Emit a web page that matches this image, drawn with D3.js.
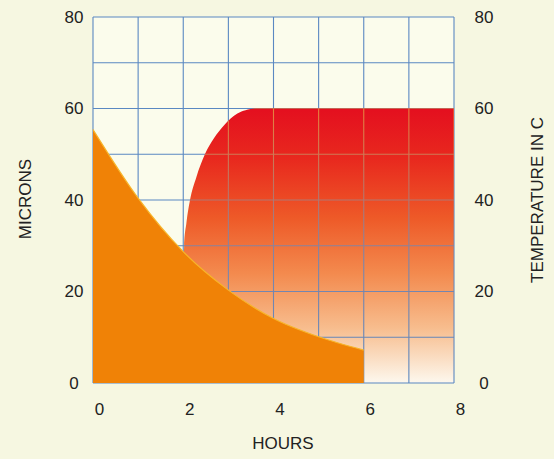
<!DOCTYPE html>
<html>
<head>
<meta charset="utf-8">
<script src="https://cdn.jsdelivr.net/npm/d3@7"></script>
<style>
  html, body { margin: 0; padding: 0; background: #f6f7e1; }
  svg { display: block; }
  text { font-family: "Liberation Sans", Arial, Helvetica, sans-serif; fill: #222; }
</style>
</head>
<body>
<script>
// ---- data ----
const hourTicks = [0, 2, 4, 6, 8];
const valueTicks = [0, 20, 40, 60, 80];
const micronHours = [0, 1, 2, 3, 4, 5, 6];
const micronValues = [55.4, 40.4, 28.7, 20.3, 14.1, 10.1, 7.2];
const tempHours = [2.0, 2.02, 2.07, 2.15, 2.29, 2.48, 2.68, 2.89, 3.05, 3.2, 3.38, 3.6, 8];
const tempValues = [20, 30, 35, 40, 45, 50, 53.5, 56.2, 57.8, 58.9, 59.6, 60, 60];
const xLabel = "HOURS";
const yLeftLabel = "MICRONS";
const yRightLabel = "TEMPERATURE IN C";

const W = 554, H = 459;
const svg = d3.select("body").append("svg").attr("width", W).attr("height", H);

const x = d3.scaleLinear().domain([0, 8]).range([93, 454]);
const y = d3.scaleLinear().domain([0, 80]).range([383, 17]);

const defs = svg.append("defs");
const tempGrad = defs.append("linearGradient").attr("id", "tempGrad")
  .attr("gradientUnits", "userSpaceOnUse")
  .attr("x1", 0).attr("x2", 0).attr("y1", y(60)).attr("y2", y(0));
[[0, "#e40f1f"], [0.18, "#e8281e"], [0.4, "#ee5a28"], [0.6, "#f38a4e"], [0.8, "#f7bd8e"], [1, "#fdf8ee"]]
  .forEach(([o, c]) => tempGrad.append("stop").attr("offset", o).attr("stop-color", c));

const gridGrad = defs.append("linearGradient").attr("id", "gridGrad")
  .attr("gradientUnits", "userSpaceOnUse")
  .attr("x1", 0).attr("x2", 0).attr("y1", y(60)).attr("y2", y(0));
[[0, "#e8803c"], [0.3, "#b97468"], [0.55, "#7d86aa"], [1, "#5886c0"]]
  .forEach(([o, c]) => gridGrad.append("stop").attr("offset", o).attr("stop-color", c));

// plot interior
svg.append("rect").attr("x", x(0)).attr("y", y(80))
  .attr("width", x(8) - x(0)).attr("height", y(0) - y(80)).attr("fill", "#fbfcec");

// grid
function drawGrid(g, stroke) {
  g.selectAll("line.v").data(d3.range(0, 9)).join("line").attr("class", "v")
    .attr("x1", d => x(d)).attr("x2", d => x(d)).attr("y1", y(0)).attr("y2", y(80))
    .attr("stroke", stroke).attr("stroke-width", 1.1);
  g.selectAll("line.h").data(d3.range(0, 81, 10)).join("line").attr("class", "h")
    .attr("x1", x(0)).attr("x2", x(8)).attr("y1", d => y(d)).attr("y2", d => y(d))
    .attr("stroke", stroke).attr("stroke-width", 1.1);
}
drawGrid(svg.append("g"), "#5a88c2");

// temperature area
const tempData = tempHours.map((h, i) => [h, tempValues[i]]);
const tempArea = d3.area().x(d => x(d[0])).y0(y(0)).y1(d => y(d[1])).curve(d3.curveMonotoneX);
const tempPath = tempArea(tempData);
svg.append("path").attr("d", tempPath).attr("fill", "url(#tempGrad)");

defs.append("clipPath").attr("id", "tempClip").append("path").attr("d", tempPath);
drawGrid(svg.append("g").attr("clip-path", "url(#tempClip)"), "url(#gridGrad)");

// microns area
const micData = micronHours.map((h, i) => [h, micronValues[i]]);
const micArea = d3.area().x(d => x(d[0])).y0(y(0)).y1(d => y(d[1])).curve(d3.curveMonotoneX);
svg.append("path").attr("d", micArea(micData)).attr("fill", "#f08206");
const micLine = d3.line().x(d => x(d[0])).y(d => y(d[1])).curve(d3.curveMonotoneX);
svg.append("path").attr("d", micLine(micData)).attr("fill", "none")
  .attr("stroke", "#f7b52a").attr("stroke-width", 1.2);

// axes
const fs = "17px";
const left = svg.append("g").attr("transform", `translate(${x(0)},0)`)
  .call(d3.axisLeft(y).tickValues(valueTicks).tickSize(0).tickFormat(d3.format("d")));
left.select(".domain").remove();
left.selectAll("text").attr("x", -19).attr("text-anchor", "middle").style("font-size", fs).attr("fill", "#222");

const right = svg.append("g").attr("transform", `translate(${x(8)},0)`)
  .call(d3.axisRight(y).tickValues(valueTicks).tickSize(0).tickFormat(d3.format("d")));
right.select(".domain").remove();
right.selectAll("text").attr("x", 30).attr("text-anchor", "middle").style("font-size", fs).attr("fill", "#222");

const bottom = svg.append("g").attr("transform", `translate(6,${y(0)})`)
  .call(d3.axisBottom(x).tickValues(hourTicks).tickSize(0).tickFormat(d3.format("d")));
bottom.select(".domain").remove();
bottom.selectAll("text").attr("y", 20).style("font-size", fs).attr("fill", "#222");

// axis titles
svg.append("text").attr("x", 283).attr("y", 449).attr("text-anchor", "middle")
  .style("font-size", fs).text(xLabel);
svg.append("text").attr("transform", "translate(31,199) rotate(-90)").attr("text-anchor", "middle")
  .style("font-size", fs).text(yLeftLabel);
svg.append("text").attr("transform", "translate(543,200) rotate(-90)").attr("text-anchor", "middle")
  .style("font-size", fs).text(yRightLabel);
</script>
</body>
</html>
